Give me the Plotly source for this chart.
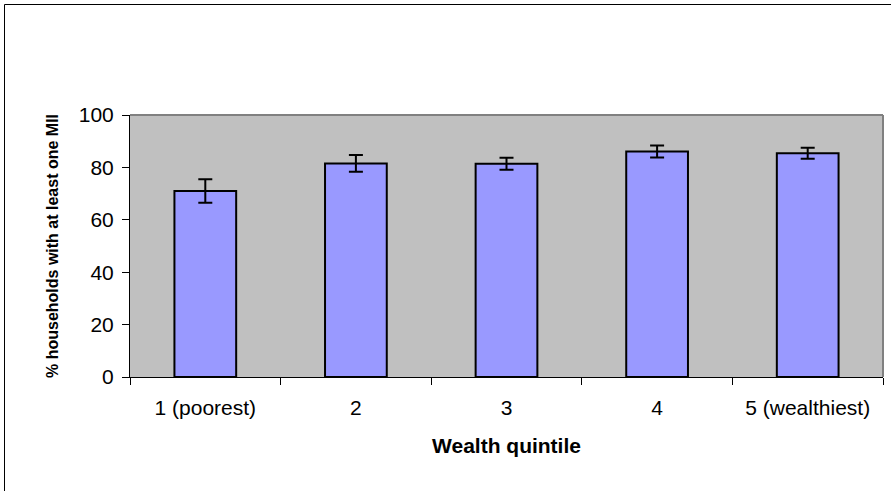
import plotly.graph_objects as go

categories = ["1 (poorest)", "2", "3", "4", "5 (wealthiest)"]
values = [71.0, 81.5, 81.4, 86.1, 85.4]
errors = [4.5, 3.2, 2.3, 2.3, 2.1]
y_ticks = [0, 20, 40, 60, 80, 100]

FONT = "Liberation Sans, Arial, sans-serif"

W, H = 891, 491
L, R, T, B = 130, 8, 115, 114

fig = go.Figure()
fig.add_trace(go.Bar(
    x=categories, y=values,
    marker=dict(color="#9999FF", line=dict(color="black", width=2)),
    error_y=dict(type="data", array=errors, visible=True, color="black", thickness=2, width=7),
    width=0.41,
))

pw = W - L - R
ph = H - T - B

fig.update_layout(
    width=W, height=H,
    margin=dict(l=L, r=R, t=T, b=B),
    paper_bgcolor="white", plot_bgcolor="#C0C0C0",
    showlegend=False,
    font=dict(family=FONT, color="black", size=21),
    xaxis=dict(
        tickson="boundaries", ticks="outside", ticklen=7, tickcolor="black",
        showline=True, linecolor="black", linewidth=1, mirror=False,
        tickfont=dict(size=21, family=FONT), ticklabelstandoff=12,
        title=dict(text="<b>Wealth quintile</b>", font=dict(size=21, family=FONT), standoff=20),
        showgrid=False,
    ),
    yaxis=dict(
        range=[0, 100], tickvals=y_ticks, ticks="outside", ticklen=7, tickcolor="black",
        showline=True, linecolor="black", linewidth=1,
        tickfont=dict(size=21, family=FONT), ticklabelstandoff=4,
        title=dict(text="<b>% households with at least one MII</b>", font=dict(size=16, family=FONT), standoff=16),
        showgrid=False, zeroline=False,
    ),
    shapes=[
        dict(type="line", xref="paper", yref="paper", x0=0, x1=1, y0=1, y1=1,
             line=dict(color="#808080", width=2)),
        dict(type="line", xref="paper", yref="paper", x0=1, x1=1, y0=0, y1=1,
             line=dict(color="#808080", width=2)),
        dict(type="rect", xref="paper", yref="paper",
             x0=(4.5 - L) / pw, x1=(W + 10 - L) / pw,
             y0=-(H + 10 - T - ph) / ph, y1=1 + (T - 4.5) / ph,
             line=dict(color="black", width=1), fillcolor="rgba(0,0,0,0)", layer="below"),
    ],
)

fig.write_html("out.html", config={"displayModeBar": False},
               post_script="document.body.style.margin='0';")
